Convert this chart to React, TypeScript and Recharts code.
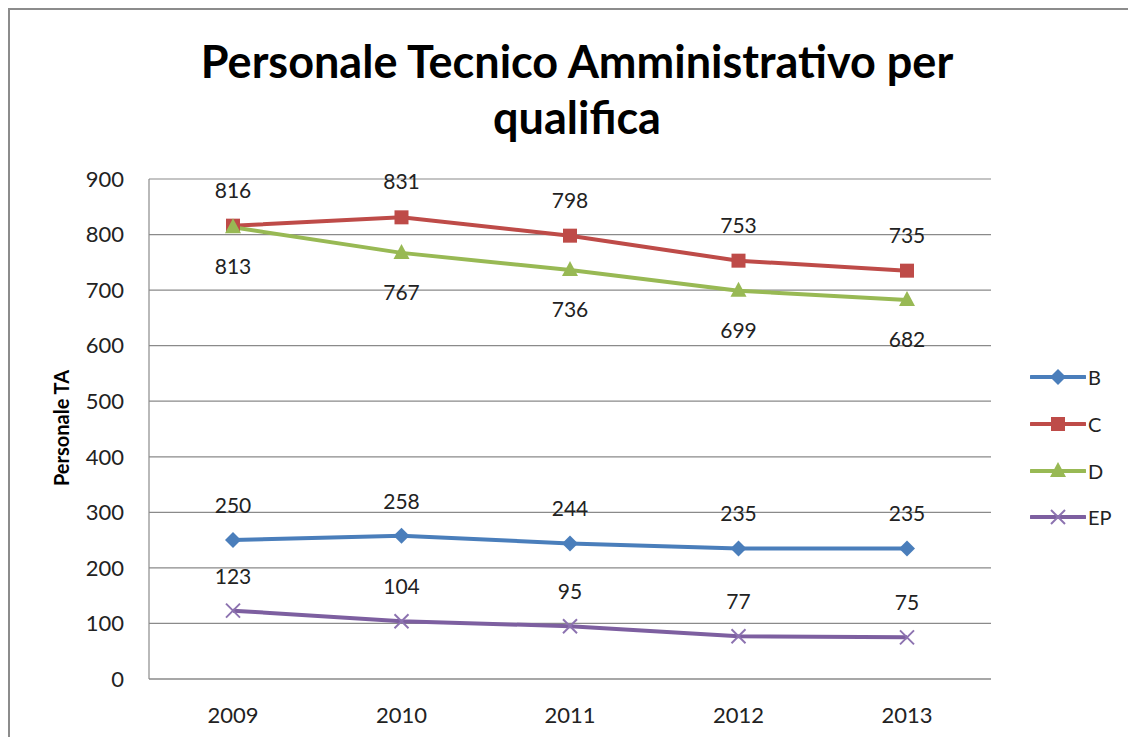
import React from "react"
import {
  LineChart,
  Line,
  XAxis,
  YAxis,
  CartesianGrid,
  LabelList,
} from "recharts"

const years = ["2009", "2010", "2011", "2012", "2013"]
const valuesB = [250, 258, 244, 235, 235]
const valuesC = [816, 831, 798, 753, 735]
const valuesD = [813, 767, 736, 699, 682]
const valuesEP = [123, 104, 95, 77, 75]
const yTicks = [0, 100, 200, 300, 400, 500, 600, 700, 800, 900]

const data = years.map((year, i) => ({
  year,
  B: valuesB[i],
  C: valuesC[i],
  D: valuesD[i],
  EP: valuesEP[i],
}))

const FONT = "Lato, 'Open Sans', sans-serif"
const GRID = "#8a8a8a"

type Kind = "diamond" | "square" | "triangle" | "cross"

const series: { key: string; color: string; marker: Kind; markerColor: string; labelPos: "top" | "bottom"; offset: number }[] = [
  { key: "B", color: "#4a7ebb", marker: "diamond", markerColor: "#4a7ebb", labelPos: "top", offset: 27 },
  { key: "C", color: "#be4b48", marker: "square", markerColor: "#be4b48", labelPos: "top", offset: 28 },
  { key: "D", color: "#98b954", marker: "triangle", markerColor: "#98b954", labelPos: "bottom", offset: 32 },
  { key: "EP", color: "#7d5fa0", marker: "cross", markerColor: "#8c72b0", labelPos: "top", offset: 27 },
]

function Marker({ kind, cx, cy, color }: { kind: Kind; cx: number; cy: number; color: string }) {
  if (kind === "diamond") {
    const r = 8
    return <polygon points={`${cx},${cy - r} ${cx + r},${cy} ${cx},${cy + r} ${cx - r},${cy}`} fill={color} />
  }
  if (kind === "square") {
    return <rect x={cx - 7} y={cy - 7} width={14} height={14} fill={color} />
  }
  if (kind === "triangle") {
    return <polygon points={`${cx},${cy - 9} ${cx + 8},${cy + 6} ${cx - 8},${cy + 6}`} fill={color} />
  }
  const r = 7
  return (
    <g stroke={color} strokeWidth={2}>
      <line x1={cx - r} y1={cy - r} x2={cx + r} y2={cy + r} />
      <line x1={cx - r} y1={cy + r} x2={cx + r} y2={cy - r} />
    </g>
  )
}

function LegendBox() {
  return (
    <div style={{ position: "absolute", left: 1022, top: 346, fontFamily: FONT, fontSize: 20, color: "#222" }}>
      {series.map((s) => (
        <div key={s.key} style={{ height: 46.7, display: "flex", alignItems: "center" }}>
          <svg width={56} height={20} style={{ display: "block" }}>
            <line x1={1} y1={10} x2={55} y2={10} stroke={s.color} strokeWidth={4} strokeLinecap="round" />
            <Marker kind={s.marker} cx={28} cy={10} color={s.markerColor} />
          </svg>
          <span style={{ marginLeft: 2 }}>{s.key}</span>
        </div>
      ))}
    </div>
  )
}

export default function App() {
  // fixed so the 1120x729 box does not make the page scroll
  return (
    <div style={{ position: "fixed", left: 8, top: 8, width: 1120, height: 729, overflow: "hidden", background: "#fff" }}>
      <div
        style={{
          position: "absolute",
          left: 0,
          top: 0,
          width: 1300,
          height: 900,
          borderLeft: "2px solid #8c8c8c",
          borderTop: "2px solid #8c8c8c",
          boxSizing: "border-box",
        }}
      />
      <div
        style={{
          position: "absolute",
          left: 0,
          top: 25,
          width: 1138,
          textAlign: "center",
          fontFamily: FONT,
          fontWeight: 700,
          fontSize: 45,
          lineHeight: "56px",
          color: "#000",
        }}
      >
        Personale Tecnico Amministrativo per
        <br />
        qualifica
      </div>
      <div
        style={{
          position: "absolute",
          left: 53,
          top: 420,
          transform: "translate(-50%, -50%) rotate(-90deg)",
          fontFamily: FONT,
          fontWeight: 700,
          fontSize: 20,
          whiteSpace: "nowrap",
          color: "#000",
        }}
      >
        Personale TA
      </div>
      <LineChart
        width={1120}
        height={729}
        data={data}
        margin={{ top: 171, right: 137, left: 81, bottom: 18 }}
        style={{ position: "absolute", left: 0, top: 0 }}
      >
        <CartesianGrid vertical={false} stroke={GRID} strokeWidth={1.2} />
        <XAxis
          dataKey="year"
          padding={{ left: 84, right: 84 }}
          height={40}
          tickLine={false}
          axisLine={{ stroke: GRID, strokeWidth: 1.2 }}
          tickMargin={22}
          tick={{ fontFamily: FONT, fontSize: 22, fill: "#222" }}
        />
        <YAxis
          domain={[0, 900]}
          ticks={yTicks}
          width={60}
          tickLine={false}
          axisLine={{ stroke: GRID, strokeWidth: 1.2 }}
          tickMargin={19}
          tick={{ fontFamily: FONT, fontSize: 22, fill: "#222" }}
        />
        {series.map((s) => (
          <Line
            key={s.key}
            dataKey={s.key}
            stroke={s.color}
            strokeWidth={4}
            isAnimationActive={false}
            dot={(p: any) => (
              <Marker key={`${s.key}-${p.index}`} kind={s.marker} cx={p.cx} cy={p.cy} color={s.markerColor} />
            )}
            activeDot={false}
          >
            <LabelList
              dataKey={s.key}
              position={s.labelPos}
              offset={s.offset}
              style={{ fontFamily: FONT, fontSize: 21, fill: "#222" }}
            />
          </Line>
        ))}
      </LineChart>
      <LegendBox />
    </div>
  )
}
